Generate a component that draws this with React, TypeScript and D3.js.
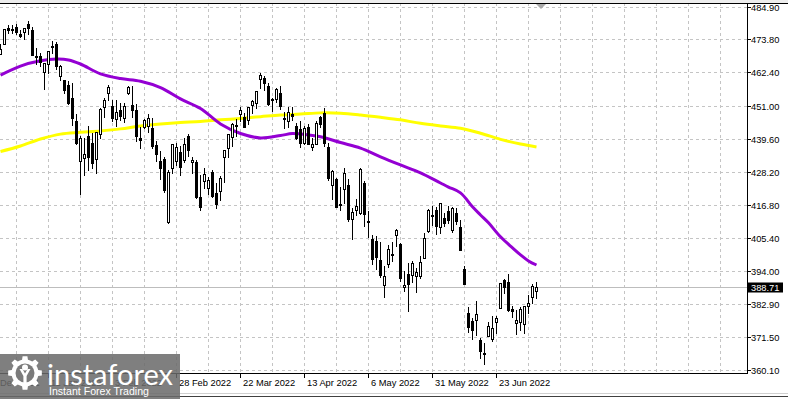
import React from "react";
import * as d3 from "d3";

const W = 788;
const H = 399;
const PLOT_R = 747;
const PLOT_T = 3;
const PLOT_B = 373;

// Daily candles, bar 0 = 23 Dec 2021 ... bar 134 = 8 Jul 2022
const opens = [
  468.75, 472.06, 477.72, 476.98, 477.93, 475.64, 476.3, 479.22, 477.16, 467.89,
  467.95, 462.7, 465.23, 471.59, 472.19, 461.19, 459.74, 458.13, 453.75, 445.56,
  432.03, 433.06, 440.72, 438.26, 432.68, 441.24, 450.68, 455.5, 450.95, 446.35,
  449.51, 446.73, 455.22, 451.34, 449.41, 439.92, 443.73, 443.93, 443.22, 437.33,
  431.89, 432.66, 411.02, 429.61, 432.03, 435.04, 432.37, 440.47, 431.75, 431.55,
  419.62, 425.14, 422.52, 428.12, 420.89, 421.5, 433.3, 436.5, 440.2, 444.34,
  448.0, 446.91, 445.94, 451.16, 452.06, 460.02, 460.34, 457.89, 453.31, 453.13,
  455.22, 446.89, 445.59, 447.97, 444.11, 443.08, 438.03, 443.55, 436.81, 437.86,
  446.92, 448.54, 436.91, 423.67, 425.83, 417.24, 422.29, 423.59, 412.07, 415.01,
  414.2, 424.55, 411.1, 405.1, 404.49, 398.07, 389.37, 396.71, 399.98, 406.53,
  403.5, 388.62, 393.25, 392.83, 392.56, 392.31, 398.67, 407.91, 413.55, 415.17,
  409.42, 412.4, 414.78, 408.1, 413.93, 409.34, 394.88, 379.85, 376.85, 377.36,
  370.51, 365.51, 371.89, 370.62, 376.64, 381.4, 391.05, 390.23, 381.23, 376.24,
  376.56, 375.88, 382.11, 385.12, 387.3,
];
const highs = [
  472.19, 477.31, 478.81, 478.56, 479.0, 476.86, 477.85, 479.98, 477.98, 470.82,
  469.2, 465.74, 469.85, 473.2, 472.88, 465.09, 459.96, 459.61, 458.74, 448.06,
  440.38, 439.72, 444.04, 441.59, 442.0, 450.28, 453.63, 458.12, 452.97, 452.78,
  451.99, 451.92, 457.88, 457.71, 451.61, 443.5, 446.28, 448.06, 446.57, 438.66,
  435.5, 433.26, 428.76, 437.84, 438.2, 437.17, 439.72, 441.11, 433.37, 432.3,
  427.21, 429.51, 426.43, 428.77, 424.55, 426.84, 435.68, 441.07, 444.86, 446.46,
  450.58, 448.49, 450.5, 452.98, 455.91, 462.07, 461.2, 458.76, 453.46, 456.91,
  457.83, 448.93, 450.69, 450.63, 445.0, 445.75, 444.11, 444.73, 439.75, 445.8,
  447.57, 450.01, 438.08, 428.69, 426.04, 422.92, 429.64, 425.87, 415.92, 418.93,
  429.66, 425.0, 414.8, 406.41, 406.08, 404.04, 395.8, 403.18, 403.97, 408.57,
  403.8, 394.14, 397.03, 397.73, 395.15, 399.45, 407.04, 415.38, 416.46, 416.24,
  417.44, 414.04, 416.61, 416.22, 415.82, 411.74, 395.78, 381.81, 377.94, 383.9,
  370.94, 369.38, 376.53, 378.72, 378.83, 390.09, 391.36, 393.16, 382.27, 380.66,
  381.7, 381.98, 385.87, 389.83, 390.5,
];
const lows = [
  468.64, 472.01, 476.06, 475.92, 475.67, 474.67, 473.85, 475.58, 468.28, 465.43,
  464.65, 456.6, 462.05, 468.94, 463.44, 459.9, 455.31, 451.46, 444.5, 437.95,
  420.76, 427.15, 428.86, 429.45, 427.82, 439.81, 446.94, 453.05, 445.71, 443.83,
  445.96, 445.22, 455.01, 447.2, 438.94, 436.42, 443.18, 441.94, 436.42, 431.82,
  425.86, 421.35, 410.64, 427.86, 430.7, 427.11, 431.57, 433.8, 427.88, 419.36,
  415.12, 422.82, 420.44, 419.53, 415.79, 418.42, 424.8, 433.19, 437.22, 440.68,
  445.86, 443.71, 444.76, 448.43, 450.06, 457.18, 456.47, 451.16, 449.14, 452.26,
  449.82, 443.47, 443.53, 445.94, 439.39, 436.65, 437.84, 437.68, 435.61, 437.68,
  443.48, 437.1, 425.44, 418.84, 416.07, 415.01, 417.6, 411.21, 405.02, 413.36,
  413.71, 409.44, 405.73, 396.5, 394.82, 391.96, 385.15, 395.61, 397.6, 402.58,
  390.55, 387.11, 380.54, 390.38, 386.96, 391.89, 398.45, 407.7, 410.03, 406.93,
  407.04, 409.51, 410.55, 407.61, 410.38, 401.44, 389.75, 373.3, 370.59, 372.12,
  364.08, 362.17, 371.81, 370.18, 372.89, 381.37, 386.5, 380.53, 378.42, 372.56,
  373.8, 372.9, 379.6, 383.27, 384.9,
];
const closes = [
  470.6, 477.26, 476.87, 477.48, 476.16, 474.96, 477.71, 477.55, 468.38, 467.94,
  466.09, 465.51, 469.75, 471.02, 464.53, 464.72, 456.49, 451.75, 446.75, 437.98,
  439.84, 434.47, 433.38, 431.24, 441.95, 449.91, 452.95, 457.35, 446.6, 448.7,
  447.26, 450.94, 457.54, 449.32, 440.46, 439.02, 446.1, 446.6, 437.06, 434.23,
  429.57, 421.95, 428.3, 437.75, 436.63, 429.98, 437.89, 435.71, 432.17, 419.43,
  416.25, 427.41, 425.48, 420.07, 417.0, 426.17, 435.62, 441.07, 444.52, 444.39,
  449.59, 443.8, 450.49, 452.69, 455.91, 461.55, 458.7, 451.64, 452.92, 456.8,
  451.03, 446.52, 448.77, 447.57, 439.92, 438.29, 443.31, 437.79, 437.97, 445.04,
  444.71, 438.06, 426.04, 428.51, 416.1, 417.27, 427.81, 412.0, 414.48, 416.38,
  429.06, 413.81, 411.34, 398.17, 399.09, 392.75, 392.34, 401.72, 400.09, 408.32,
  391.86, 389.46, 389.63, 396.92, 393.89, 397.37, 405.31, 415.26, 412.93, 409.59,
  417.39, 410.54, 411.79, 415.74, 411.22, 401.44, 389.8, 375.0, 373.87, 379.2,
  366.65, 365.86, 375.07, 374.39, 378.06, 390.08, 388.59, 380.65, 380.34, 377.25,
  381.24, 381.96, 383.25, 388.99, 388.71,
];

// Moving averages (bar index -> price)
const maFastIdx = [0, 5, 10, 14, 17, 20, 25, 30, 35, 40, 45, 50, 55, 60, 65, 70, 73, 77, 80, 85, 90, 95, 100, 105, 110, 112, 115, 118, 120, 122, 125, 128, 130, 132, 134];
const maFast = [461.5, 464.6, 466.4, 467.0, 466.7, 465.3, 461.9, 460.3, 459.4, 457.2, 453.3, 450.0, 444.7, 441.4, 439.9, 440.7, 441.4, 440.9, 440.3, 438.3, 436.4, 433.4, 430.6, 427.9, 424.4, 423.0, 421.0, 416.2, 413.4, 410.7, 405.9, 402.1, 399.7, 397.6, 396.2];
const maSlowIdx = [0, 5, 10, 15, 20, 25, 30, 35, 40, 45, 50, 55, 60, 65, 70, 75, 80, 85, 90, 95, 100, 105, 110, 115, 120, 125, 130, 134];
const maSlow = [435.2, 437.1, 439.5, 441.2, 441.8, 442.3, 443.0, 444.0, 444.7, 445.2, 445.5, 446.1, 446.6, 447.2, 447.8, 448.1, 448.5, 448.4, 447.8, 447.0, 446.1, 444.9, 444.0, 443.2, 441.5, 439.4, 437.8, 436.8];

const priceTicks = ["484.90", "473.80", "462.40", "451.00", "439.60", "428.20", "416.80", "405.40", "394.00", "382.90", "371.50", "360.10"];
const dateTickIdx = [-4, 12, 28, 44, 60, 76, 92, 108, 124];
const dateTickLabels = ["17 Dec 2021", "11 Jan 2022", "3 Feb 2022", "28 Feb 2022", "22 Mar 2022", "13 Apr 2022", "6 May 2022", "31 May 2022", "23 Jun 2022"];
const lastPrice = 388.71;

const FONT = "'Liberation Sans', Arial, sans-serif";

function gearPath(cx: number, cy: number, rOut: number, rIn: number, teeth: number) {
  const pts: [number, number][] = [];
  const step = (Math.PI * 2) / teeth;
  for (let k = 0; k < teeth; k++) {
    const a = k * step - Math.PI / 2;
    const angs: [number, number][] = [
      [a - step * 0.5, rIn],
      [a - step * 0.28, rIn],
      [a - step * 0.18, rOut],
      [a + step * 0.18, rOut],
      [a + step * 0.28, rIn],
    ];
    angs.forEach(([t, r]) => pts.push([cx + r * Math.cos(t), cy + r * Math.sin(t)]));
  }
  return "M" + pts.map((p) => p[0].toFixed(2) + "," + p[1].toFixed(2)).join("L") + "Z";
}

export default function App() {
  const x = d3.scaleLinear().domain([0, PLOT_R / 4]).range([0, PLOT_R]);
  const y = d3.scaleLinear().domain([360.1, 484.9]).range([370, 7]);

  const gridX = d3.range(4, PLOT_R / 4, 8).map((i) => Math.round(x(i)) + 0.5);
  const gridY = priceTicks.map((t) => Math.round(y(parseFloat(t))) + 0.5);

  const line = d3
    .line<[number, number]>()
    .x((d) => x(d[0]) + 0.5)
    .y((d) => y(d[1]))
    .curve(d3.curveCatmullRom.alpha(0.5));

  const fastPts: [number, number][] = maFastIdx.map((i, k) => [i, maFast[k]]);
  const slowPts: [number, number][] = maSlowIdx.map((i, k) => [i, maSlow[k]]);

  const lastY = Math.round(y(lastPrice)) + 0.5;

  return (
    <svg
      width={W}
      height={H}
      viewBox={`0 0 ${W} ${H}`}
      style={{ position: "absolute", left: 0, top: 0, display: "block", background: "#fff" }}
    >
      <defs>
        <clipPath id="plot">
          <rect x={0} y={PLOT_T} width={PLOT_R} height={PLOT_B - PLOT_T} />
        </clipPath>
      </defs>
      <rect x={0} y={0} width={W} height={H} fill="#fff" />
      <rect x={0} y={0} width={W} height={3} fill="#ededed" />

      <g clipPath="url(#plot)">
        {/* grid */}
        {gridX.map((gx, i) => (
          <line key={"gx" + i} x1={gx} x2={gx} y1={PLOT_T} y2={PLOT_B} stroke="#c4c4c4" strokeDasharray="3,3" />
        ))}
        {gridY.map((gy, i) => (
          <line key={"gy" + i} x1={0} x2={PLOT_R} y1={gy} y2={gy} stroke="#c4c4c4" strokeDasharray="3,3" />
        ))}
        {/* last price line */}
        <line x1={0} x2={PLOT_R} y1={lastY} y2={lastY} stroke="#bdbdbd" />

        {/* moving averages */}
        <path d={line(slowPts) || ""} fill="none" stroke="#ffff00" strokeWidth={3} strokeLinejoin="round" />
        <path d={line(fastPts) || ""} fill="none" stroke="#9400d3" strokeWidth={3} strokeLinejoin="round" />

        {/* candles */}
        {opens.map((o, i) => {
          const c = closes[i];
          const cx = Math.round(x(i));
          const yTop = Math.round(y(Math.max(o, c)));
          const yBot = Math.round(y(Math.min(o, c)));
          const yH = Math.round(y(highs[i]));
          const yL = Math.round(y(lows[i]));
          const bull = c >= o;
          const h = Math.max(yBot - yTop, 1);
          return (
            <g key={"c" + i}>
              <line x1={cx + 0.5} x2={cx + 0.5} y1={yH} y2={yL + 1} stroke="#000" />
              {bull ? (
                <rect x={cx - 0.5} y={yTop + 0.5} width={2} height={h} fill="#fff" stroke="#000" />
              ) : (
                <rect x={cx - 1} y={yTop} width={3} height={h + 1} fill="#000" />
              )}
            </g>
          );
        })}
      </g>

      {/* frame */}
      <line x1={0} x2={W} y1={3.5} y2={3.5} stroke="#000" />
      <line x1={PLOT_R + 0.5} x2={PLOT_R + 0.5} y1={3} y2={PLOT_B + 1} stroke="#000" />
      <line x1={0} x2={PLOT_R + 1} y1={PLOT_B + 0.5} y2={PLOT_B + 0.5} stroke="#000" />
      <polygon points="536,4 546,4 541,9" fill="#a8a8a8" />

      {/* price axis */}
      {priceTicks.map((t, i) => (
        <g key={"pt" + i}>
          <line x1={PLOT_R + 1} x2={PLOT_R + 4} y1={gridY[i]} y2={gridY[i]} stroke="#000" />
          <text x={751} y={gridY[i] + 3.3} fontFamily={FONT} fontSize={9.3} fill="#000">
            {t}
          </text>
        </g>
      ))}
      <rect x={PLOT_R} y={lastY - 5} width={36} height={10} fill="#000" />
      <text x={751} y={lastY + 3.3} fontFamily={FONT} fontSize={9.3} fill="#fff">
        {lastPrice.toFixed(2)}
      </text>

      {/* date axis */}
      {dateTickIdx.map((i, k) => {
        const tx = Math.round(x(i)) + 0.5;
        return (
          <g key={"dt" + k}>
            <line x1={tx} x2={tx} y1={PLOT_B} y2={PLOT_B + 5} stroke="#000" />
            <text x={tx + 2.5} y={386} fontFamily={FONT} fontSize={9.3} fill="#000">
              {dateTickLabels[k]}
            </text>
          </g>
        );
      })}

      <line x1={0} x2={W} y1={393.5} y2={393.5} stroke="#d0d0d0" />
      <line x1={0} x2={W} y1={396.5} y2={396.5} stroke="#404040" />

      {/* watermark logo */}
      <g>
        <rect x={0} y={354} width={180} height={45} fill="#6a6a6a" opacity={0.86} />
        <path d={gearPath(25, 373, 17, 13.5, 8)} fill="#fff" />
        <circle cx={25} cy={373} r={9.5} fill="#7b7b7b" />
        <circle cx={25} cy={367.5} r={3} fill="#fff" />
        <path d="M19.5,369 L22.5,369 L25,373.5 L27.5,369 L30.5,369 L26.6,376 L26.6,384 L23.4,384 L23.4,376 Z" fill="#fff" />
        <text
          x={47}
          y={385}
          fontFamily="Lato, 'Open Sans', sans-serif"
          fontSize={29}
          fill="#fff"
          textLength={126}
          lengthAdjust="spacingAndGlyphs"
        >
          instaforex
        </text>
        <text
          x={49}
          y={394.5}
          fontFamily={FONT}
          fontSize={11.5}
          fill="#fff"
          textLength={100}
          lengthAdjust="spacingAndGlyphs"
        >
          Instant Forex Trading
        </text>
      </g>
    </svg>
  );
}
